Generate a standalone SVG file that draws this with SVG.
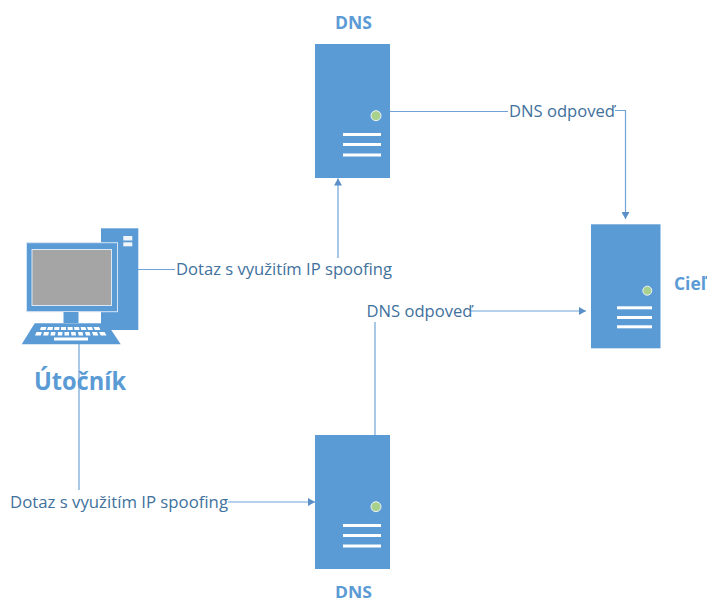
<svg xmlns="http://www.w3.org/2000/svg" width="707" height="603" viewBox="0 0 707 603">
<style>
.b{fill:#5b9bd5}
.w{fill:#fff}
.led{fill:#a9d18e;stroke:#eef4fa;stroke-width:1}
.t{font-family:"Open Sans","Liberation Sans",sans-serif;font-size:15.500px;fill:#41719c}
.h{font-family:"Open Sans","Liberation Sans",sans-serif;font-weight:700;fill:#5b9bd5}
.c{fill:none;stroke:#6fa3d8;stroke-width:1.2}
</style>
<defs>
<marker id="a" markerUnits="userSpaceOnUse" markerWidth="8" markerHeight="8" refX="7" refY="4" orient="auto"><path d="M0 0L7 4L0 8z" fill="#5b8fc7"/></marker>
</defs>
<rect width="707" height="603" fill="#fff"/>
<g id="connectors">
<path class="c" d="M138 269.500H175"/>
<path class="c" d="M338 258V178.500" marker-end="url(#a)"/>
<path class="c" d="M79 344V490"/>
<path class="c" d="M228 502H315" marker-end="url(#a)"/>
<path class="c" d="M375 435V322"/>
<path class="c" d="M470 311H586" marker-end="url(#a)"/>
<path class="c" d="M390 111.500H508"/>
<path class="c" d="M615 110.500H625.500V219" marker-end="url(#a)"/>
</g>
<g id="dns-top">
<text class="h" x="335" y="29" font-size="18" textLength="37" lengthAdjust="spacingAndGlyphs">DNS</text>
<rect class="b" x="315" y="44" width="75" height="134"/>
<circle class="led" cx="376" cy="115.700" r="5"/>
<rect class="w" x="343" y="133" width="38" height="3"/>
<rect class="w" x="343" y="143" width="38" height="3"/>
<rect class="w" x="343" y="153.500" width="38" height="3"/>
</g>
<g id="dns-bottom">
<rect class="b" x="315" y="435" width="75" height="134"/>
<circle class="led" cx="376" cy="506.700" r="5"/>
<rect class="w" x="343" y="524" width="38" height="3"/>
<rect class="w" x="343" y="534" width="38" height="3"/>
<rect class="w" x="343" y="544.500" width="38" height="3"/>
<text class="h" x="335" y="598" font-size="16.500" textLength="37" lengthAdjust="spacingAndGlyphs">DNS</text>
</g>
<g id="target">
<rect class="b" x="591" y="224.300" width="69.500" height="124"/>
<circle class="led" cx="647.300" cy="290.700" r="4.500"/>
<rect class="w" x="617" y="306.300" width="35" height="3"/>
<rect class="w" x="617" y="316" width="35" height="3"/>
<rect class="w" x="617" y="325.300" width="35" height="3"/>
<text class="h" x="674" y="290" font-size="18" textLength="32" lengthAdjust="spacingAndGlyphs">Cieľ</text>
</g>
<g id="attacker">
<rect class="b" x="101" y="228.300" width="37.300" height="101.700"/>
<rect class="w" x="123.300" y="236" width="9" height="4.500" opacity=".9"/>
<rect class="w" x="123.300" y="242.300" width="9" height="4" opacity=".9"/>
<rect class="b" x="26.500" y="242.700" width="91" height="69" stroke="#d6e5f4" stroke-width="1"/>
<rect x="32" y="249.500" width="79.500" height="56" fill="#a5a5a5" stroke="#dbe8f5" stroke-width="1"/>
<rect class="b" x="63.500" y="312" width="15" height="11"/>
<path class="b" d="M34.700 323.300H106.700L120.700 344.300H21.700z"/>
<path class="w" d="M41 327h5.500l-1 3h-5.500zM48 327h5l-.5 3h-5.500zM54.500 327h5l-.3 3h-5zM61 327h5l0 3h-5zM67.500 327h5l.3 3h-5zM74 327h5l.5 3h-5zM80.500 327h5l.8 3h-5zM87 327h5l1 3h-5zM93.500 327h5.500l1.500 3h-5.500z"/>
<path class="w" d="M36.500 332h5.500l-1.300 3.500h-5.700zM44 332h5l-.8 3.500h-5zM51 332h4.500l-.5 3.500h-4.500zM58 332h4.500l-.3 3.500h-4.500zM64.500 332h4.500l0 3.500h-4.500zM71 332h4.500l.5 3.500h-4.500zM78 332h4.500l.7 3.500h-4.500zM85 332h4.500l1 3.500h-4.500zM92 332h5l1.300 3.500h-5zM99 332h5.500l2 3.500h-5.700z"/>
<rect class="w" x="54" y="337.500" width="34" height="3"/>
<text class="h" x="34" y="390" font-size="25" textLength="92" lengthAdjust="spacingAndGlyphs">Útočník</text>
</g>
<g id="labels">
<text class="t" x="176" y="275" textLength="216" lengthAdjust="spacingAndGlyphs">Dotaz s využitím IP spoofing</text>
<text class="t" x="10" y="508" textLength="218" lengthAdjust="spacingAndGlyphs">Dotaz s využitím IP spoofing</text>
<text class="t" x="366.500" y="317" textLength="106" lengthAdjust="spacingAndGlyphs">DNS odpoveď</text>
<text class="t" x="509" y="117" textLength="106" lengthAdjust="spacingAndGlyphs">DNS odpoveď</text>
</g>
</svg>
